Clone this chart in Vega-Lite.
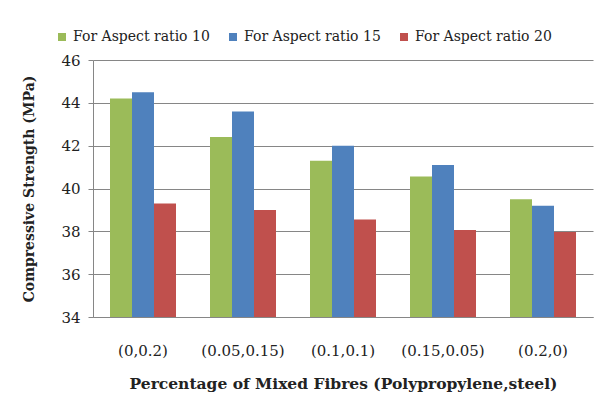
{
  "$schema": "https://vega.github.io/schema/vega-lite/v6.json",
  "width": 500,
  "height": 257,
  "autosize": "none",
  "padding": {"left": 93, "top": 60, "right": 21, "bottom": 102},
  "background": "white",
  "data": {
    "values": [
      {"mix": "(0,0.2)", "series": "For Aspect ratio 10", "value": 44.2},
      {"mix": "(0,0.2)", "series": "For Aspect ratio 15", "value": 44.5},
      {"mix": "(0,0.2)", "series": "For Aspect ratio 20", "value": 39.3},
      {"mix": "(0.05,0.15)", "series": "For Aspect ratio 10", "value": 42.4},
      {"mix": "(0.05,0.15)", "series": "For Aspect ratio 15", "value": 43.6},
      {"mix": "(0.05,0.15)", "series": "For Aspect ratio 20", "value": 39.0},
      {"mix": "(0.1,0.1)", "series": "For Aspect ratio 10", "value": 41.3},
      {"mix": "(0.1,0.1)", "series": "For Aspect ratio 15", "value": 42.0},
      {"mix": "(0.1,0.1)", "series": "For Aspect ratio 20", "value": 38.55},
      {"mix": "(0.15,0.05)", "series": "For Aspect ratio 10", "value": 40.56},
      {"mix": "(0.15,0.05)", "series": "For Aspect ratio 15", "value": 41.1},
      {"mix": "(0.15,0.05)", "series": "For Aspect ratio 20", "value": 38.06},
      {"mix": "(0.2,0)", "series": "For Aspect ratio 10", "value": 39.5},
      {"mix": "(0.2,0)", "series": "For Aspect ratio 15", "value": 39.2},
      {"mix": "(0.2,0)", "series": "For Aspect ratio 20", "value": 37.97}
    ]
  },
  "mark": {"type": "bar", "clip": true},
  "encoding": {
    "x": {
      "field": "mix",
      "type": "nominal",
      "sort": null,
      "scale": {"paddingInner": 0.34, "paddingOuter": 0.17},
      "axis": {
        "title": "Percentage of Mixed Fibres (Polypropylene,steel)",
        "titleFont": "DejaVu Serif",
        "titleFontWeight": "bold",
        "titleFontSize": 15.5,
        "titleColor": "#222",
        "titlePadding": 18,
        "labelFont": "DejaVu Serif",
        "labelFontSize": 15,
        "labelColor": "#222",
        "labelAngle": 0,
        "labelPadding": 26,
        "ticks": false,
        "domainColor": "#868686",
        "grid": false
      }
    },
    "xOffset": {"field": "series", "type": "nominal", "sort": null},
    "y": {
      "field": "value",
      "type": "quantitative",
      "scale": {"domain": [34, 46], "zero": false, "nice": false},
      "axis": {
        "values": [34, 36, 38, 40, 42, 44, 46],
        "title": "Compressive Strength (MPa)",
        "titleFont": "DejaVu Serif",
        "titleFontWeight": "bold",
        "titleFontSize": 14,
        "titleColor": "#222",
        "titlePadding": 24,
        "labelFont": "DejaVu Serif",
        "labelFontSize": 15,
        "labelColor": "#222",
        "labelPadding": 8,
        "tickSize": 5,
        "tickColor": "#868686",
        "domainColor": "#868686",
        "gridColor": "#868686",
        "gridWidth": 1
      }
    },
    "color": {
      "field": "series",
      "type": "nominal",
      "sort": null,
      "scale": {"range": ["#9BBB59", "#4F81BD", "#C0504D"]},
      "legend": {
        "title": null,
        "orient": "none",
        "direction": "horizontal",
        "legendX": -38,
        "legendY": -30,
        "symbolType": "square",
        "symbolSize": 64,
        "symbolStrokeWidth": 0,
        "labelFont": "DejaVu Serif",
        "labelFontSize": 14,
        "labelColor": "#222",
        "columnPadding": 16,
        "labelOffset": 4
      }
    }
  },
  "config": {"view": {"stroke": null}}
}
